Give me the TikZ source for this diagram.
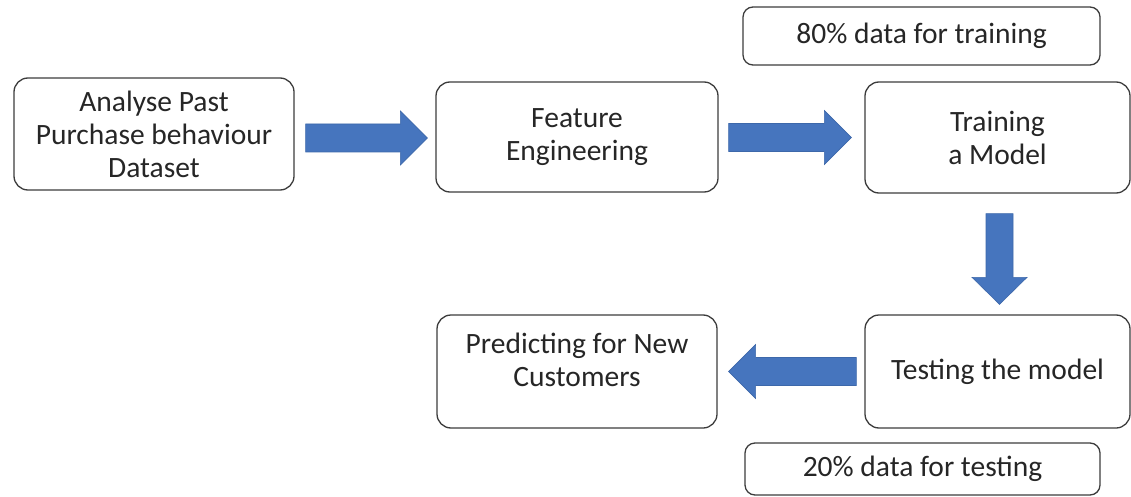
\documentclass[tikz,border=0pt]{standalone}
\usepackage{fontspec}
\setmainfont{Carlito}
\usetikzlibrary{calc}
\definecolor{boxline}{HTML}{3C3C3C}
\definecolor{arrowblue}{HTML}{4675BE}
\definecolor{arrowedge}{HTML}{3D68AA}
\definecolor{txt}{HTML}{262626}

% horizontal block arrow: #1 tail centre, #2 tip
\newcommand\hblock[2]{%
  \filldraw[arrowblue, draw=arrowedge, line width=0.6pt]
    let \p1=(#1), \p2=(#2), \n1={ifthenelse(\x2>\x1,1,-1)} in
    (\x1,\y1+14pt) -- (\x2-\n1*27pt,\y1+14pt) -- (\x2-\n1*27pt,\y1+27pt)
    -- (\x2,\y1) -- (\x2-\n1*27pt,\y1-27pt) -- (\x2-\n1*27pt,\y1-14pt)
    -- (\x1,\y1-14pt) -- cycle;}
% vertical block arrow pointing down: #1 tail centre, #2 tip
\newcommand\vblock[2]{%
  \filldraw[arrowblue, draw=arrowedge, line width=0.6pt]
    let \p1=(#1), \p2=(#2) in
    (\x1-13.5pt,\y1) -- (\x1-13.5pt,\y2+27pt) -- (\x1-27.5pt,\y2+27pt)
    -- (\x1,\y2) -- (\x1+27.5pt,\y2+27pt) -- (\x1+13.5pt,\y2+27pt)
    -- (\x1+13.5pt,\y1) -- cycle;}

\begin{document}
\begin{tikzpicture}[x=1pt,y=-1pt,
  stagebox/.style={draw=boxline, line width=1.3pt, rounded corners=14pt,
    fill=white, align=center, text=txt, inner sep=0pt,
    font=\fontsize{29.5}{33}\selectfont},
  notebox/.style={stagebox, rounded corners=10pt}]
\useasboundingbox (0,0) rectangle (1131,497);
\fill[white] (0,0) rectangle (1131,497);

\node[stagebox, minimum width=280pt, minimum height=112pt] (past) at (154,134)
  {Analyse Past\\Purchase behaviour\\Dataset};
\node[stagebox, minimum width=282pt, minimum height=110pt] (feat) at (577,137)
  {Feature\\Engineering};
\node[stagebox, minimum width=265pt, minimum height=111pt] (train) at (997.5,137.5)
  {Training\\a Model};
\node[notebox, minimum width=357pt, minimum height=58pt] (split80) at (921.5,36)
  {80\% data for training};
\node[stagebox, minimum width=265pt, minimum height=113pt] (test) at (997.5,371.5)
  {Testing the model};
\node[notebox, minimum width=355pt, minimum height=52pt] (split20) at (922.5,469)
  {20\% data for testing};
\node[stagebox, minimum width=280pt, minimum height=113pt, text depth=24pt] (pred) at (577,371.5)
  {Predicting for New\\Customers};

% block arrows between the stages
\coordinate (a1s) at ($(past.east)+(11,4)$);
\coordinate (a1t) at ($(feat.west)+(-8,1)$);
\coordinate (a2s) at ($(feat.east)+(10,0.5)$);
\coordinate (a2t) at ($(train.west)+(-13,0)$);
\coordinate (a3s) at ($(train.south)+(2,20)$);
\coordinate (a3t) at ($(test.north)+(2,-10)$);
\coordinate (a4s) at ($(test.west)+(-8,0)$);
\coordinate (a4t) at ($(pred.east)+(11,0)$);
\hblock{a1s}{a1t}
\hblock{a2s}{a2t}
\vblock{a3s}{a3t}
\hblock{a4s}{a4t}
\end{tikzpicture}
\end{document}
